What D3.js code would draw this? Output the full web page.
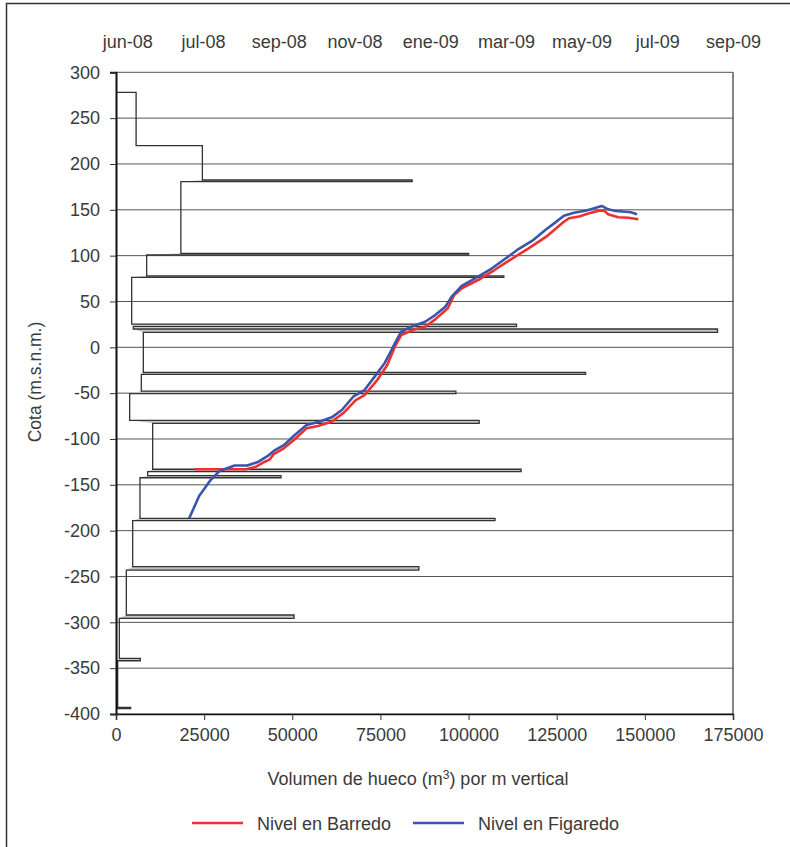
<!DOCTYPE html>
<html>
<head>
<meta charset="utf-8">
<script src="https://cdn.jsdelivr.net/npm/d3@7"></script>
<style>
  body { margin: 0; background: #fff; }
  text { font-family: "Liberation Sans", Arial, sans-serif; fill: #3a3a3a; }
</style>
</head>
<body>
<div id="chart"></div>
<script>
// perfil de huecos por banda de cota
var bandTop    = [278, 220, 180.7, 100.7, 76.4, 22.5, 16.4, -29.5, -50.6, -82.9, -135.7, -142.3, -189, -243, -295.6, -341.9];
var bandBottom = [220, 182.5, 102.5, 78, 25.4, 20, -27.3, -47.7, -79.6, -133, -140, -186.5, -239.3, -292, -339.3, -392.7];
var bandVol    = [5700, 24500, 18400, 8700, 4450, 4900, 7750, 7180, 3880, 10400, 8980, 6800, 4730, 2930, 940, 470];
var spikeVol   = [24500, 84000, 100000, 110000, 113600, 170600, 133200, 96400, 103000, 114900, 46800, 107500, 85900, 50500, 6900, 4150];
var profileEnd = -394;

// niveles de agua
var barredoDates = ["2008-07-24","2008-09-03","2008-09-11","2008-09-18","2008-09-22","2008-09-25","2008-10-03","2008-10-11","2008-10-21","2008-10-30","2008-11-10","2008-11-19","2008-11-29","2008-12-06","2008-12-16","2008-12-24","2008-12-30","2009-01-04","2009-01-15","2009-01-23","2009-01-31","2009-02-10","2009-02-15","2009-02-21","2009-03-06","2009-03-19","2009-04-01","2009-04-15","2009-04-29","2009-05-12","2009-05-17","2009-05-25","2009-06-02","2009-06-10","2009-06-14","2009-06-17","2009-06-25","2009-07-03","2009-07-11"];
var barredoCota  = [-133, -133, -130.2, -124.8, -122.2, -116.4, -110.2, -101.1, -88.4, -85.8, -81.1, -72, -57.5, -52.1, -35.7, -19.3, 0.7, 13.4, 19.6, 22.5, 30.5, 42.6, 57, 64.4, 73.4, 84.3, 96, 108, 120.7, 136, 140.8, 142.6, 146.2, 149.1, 149.1, 145.1, 141.8, 141.4, 139.6];

var figaredoDates = ["2008-07-20","2008-07-28","2008-08-06","2008-08-13","2008-08-25","2008-09-04","2008-09-13","2008-09-20","2008-09-25","2008-10-03","2008-10-11","2008-10-21","2008-10-31","2008-11-10","2008-11-18","2008-11-27","2008-12-06","2008-12-14","2008-12-22","2008-12-26","2008-12-30","2009-01-04","2009-01-12","2009-01-23","2009-01-31","2009-02-08","2009-02-13","2009-02-21","2009-03-06","2009-03-17","2009-03-28","2009-04-07","2009-04-18","2009-04-29","2009-05-06","2009-05-13","2009-05-21","2009-05-30","2009-06-04","2009-06-12","2009-06-17","2009-06-23","2009-07-01","2009-07-05","2009-07-10"];
var figaredoCota  = [-186.5, -162, -144.7, -135, -129, -129, -124.8, -118.8, -113, -106.8, -96.5, -84.8, -81.1, -76.4, -68.4, -53.9, -46.6, -32, -17, -6.5, 4.4, 17, 22.5, 27.9, 35.2, 44.3, 55.2, 66.9, 77, 86.2, 97.1, 107.2, 116.3, 128.7, 136, 143.6, 146.8, 149, 150.9, 154.2, 150.5, 148.7, 147.9, 147.3, 145.1];

var yTicks = [300, 250, 200, 150, 100, 50, 0, -50, -100, -150, -200, -250, -300, -350, -400];
var xTicks = [0, 25000, 50000, 75000, 100000, 125000, 150000, 175000];
var seriesNames = ["Nivel en Barredo", "Nivel en Figaredo"];
var seriesColors = ["#ee3030", "#3a55aa"];

var width = 790, height = 847;
var plot = {left: 116, right: 733, top: 72.3, bottom: 714};

var svg = d3.select("#chart").append("svg")
  .attr("width", width).attr("height", height);

// borde exterior
svg.append("rect")
  .attr("x", 6.5).attr("y", 3.5)
  .attr("width", width).attr("height", height)
  .attr("fill", "none").attr("stroke", "#333").attr("stroke-width", 1.5);

var x = d3.scaleLinear().domain([0, 175000]).range([plot.left, plot.right]);
var y = d3.scaleLinear().domain([-400, 300]).range([plot.bottom, plot.top]);
var parse = d3.timeParse("%Y-%m-%d");
var xt = d3.scaleTime()
  .domain([parse("2008-05-23"), parse("2009-09-24")])
  .range([plot.left, plot.right]);

var es = d3.timeFormatLocale({
  dateTime: "%x, %X", date: "%d/%m/%Y", time: "%-H:%M:%S", periods: ["AM", "PM"],
  days: ["domingo","lunes","martes","miércoles","jueves","viernes","sábado"],
  shortDays: ["dom","lun","mar","mié","jue","vie","sáb"],
  months: ["enero","febrero","marzo","abril","mayo","junio","julio","agosto","septiembre","octubre","noviembre","diciembre"],
  shortMonths: ["ene","feb","mar","abr","may","jun","jul","ago","sep","oct","nov","dic"]
});
var fmtMes = es.format("%b-%y");
var fmtNum = function(d) { return String(d); };  // guion normal, no signo menos

// rejilla
svg.append("g").selectAll("line")
  .data(yTicks)
  .enter().append("line")
    .attr("x1", plot.left).attr("x2", plot.right)
    .attr("y1", function(d) { return y(d); })
    .attr("y2", function(d) { return y(d); })
    .attr("stroke", "#555").attr("stroke-width", 1);
svg.append("line")
  .attr("x1", plot.right).attr("x2", plot.right)
  .attr("y1", plot.top).attr("y2", plot.bottom)
  .attr("stroke", "#333").attr("stroke-width", 1.2);

// perfil escalonado
var pts = [[0, bandTop[0]]];
var slivers = [];
for (var i = 0; i < bandVol.length; i++) {
  pts.push([bandVol[i], bandTop[i]]);
  pts.push([bandVol[i], bandBottom[i]]);
  pts.push([spikeVol[i], bandBottom[i]]);
  if (i < bandVol.length - 1) {
    pts.push([spikeVol[i], bandTop[i + 1]]);
    slivers.push([[bandVol[i], bandBottom[i]], [spikeVol[i], bandBottom[i]],
                  [spikeVol[i], bandTop[i + 1]], [bandVol[i + 1], bandTop[i + 1]]]);
  } else {
    pts.push([spikeVol[i], profileEnd]);
    pts.push([0, profileEnd]);
    slivers.push([[bandVol[i], bandBottom[i]], [spikeVol[i], bandBottom[i]],
                  [spikeVol[i], profileEnd], [0, profileEnd]]);
  }
}
var pline = d3.line().x(function(d) { return x(d[0]); }).y(function(d) { return y(d[1]); });

svg.append("g").selectAll("path")
  .data(slivers)
  .enter().append("path")
    .attr("d", function(d) { return pline(d) + "Z"; })
    .attr("fill", "#c4c4c4").attr("stroke", "none");

svg.append("path")
  .attr("d", pline(pts))
  .attr("fill", "none")
  .attr("stroke", "#333")
  .attr("stroke-width", 1.3);

// series de nivel
var series = [
  barredoDates.map(function(d, k) { return {date: parse(d), cota: barredoCota[k]}; }),
  figaredoDates.map(function(d, k) { return {date: parse(d), cota: figaredoCota[k]}; })
];
var nline = d3.line()
  .x(function(d) { return xt(d.date); })
  .y(function(d) { return y(d.cota); });

svg.append("g").selectAll("path")
  .data(series)
  .enter().append("path")
    .attr("d", nline)
    .attr("fill", "none")
    .attr("stroke", function(d, k) { return seriesColors[k]; })
    .attr("stroke-width", 2.6)
    .attr("stroke-linejoin", "round");

// ejes
var yAxis = d3.axisLeft(y).tickValues(yTicks).tickSize(6).tickPadding(10).tickFormat(fmtNum);
var gy = svg.append("g")
  .attr("transform", "translate(" + plot.left + ",0)")
  .call(yAxis);
gy.select(".domain").attr("stroke", "#111").attr("stroke-width", 2);
gy.selectAll(".tick line").attr("stroke", "#333");
gy.selectAll("text").attr("font-size", 18).attr("font-family", null).attr("fill", "#3a3a3a");

var xAxis = d3.axisBottom(x).tickValues(xTicks).tickSize(6).tickPadding(8).tickFormat(fmtNum);
var gx = svg.append("g")
  .attr("transform", "translate(0," + plot.bottom + ")")
  .call(xAxis);
gx.select(".domain").attr("stroke", "#111").attr("stroke-width", 1.5);
gx.selectAll(".tick line").attr("stroke", "#333");
gx.selectAll("text").attr("font-size", 18).attr("font-family", null).attr("fill", "#3a3a3a");

// eje superior de fechas
var dateTicks = d3.range(9).map(function(k) { return d3.timeDay.offset(parse("2008-06-01"), 60 * k); });
var xtAxis = d3.axisTop(xt).tickValues(dateTicks).tickSize(0).tickPadding(24).tickFormat(fmtMes);
var gt = svg.append("g")
  .attr("transform", "translate(0," + plot.top + ")")
  .call(xtAxis);
gt.select(".domain").remove();
gt.selectAll("text").attr("font-size", 18).attr("font-family", null).attr("fill", "#3a3a3a");

// títulos
svg.append("text")
  .attr("transform", "translate(41,382) rotate(-90)")
  .attr("text-anchor", "middle")
  .attr("font-size", 17.5)
  .text("Cota (m.s.n.m.)");

var xt1 = svg.append("text")
  .attr("x", 418).attr("y", 785)
  .attr("text-anchor", "middle")
  .attr("font-size", 18);
xt1.append("tspan").text("Volumen de hueco (m");
xt1.append("tspan").attr("font-size", 12).attr("dy", -6).text("3");
xt1.append("tspan").attr("dy", 6).text(") por m vertical");

// leyenda
var legX = [192, 413];
var leg = svg.append("g").selectAll("g")
  .data(seriesNames)
  .enter().append("g")
    .attr("transform", function(d, k) { return "translate(" + legX[k] + ",823)"; });
leg.append("line")
  .attr("x1", 0).attr("x2", 51)
  .attr("stroke", function(d, k) { return seriesColors[k]; })
  .attr("stroke-width", 2.6);
leg.append("text")
  .attr("x", 65).attr("y", 6.5)
  .attr("font-size", 18)
  .text(function(d) { return d; });
</script>
</body>
</html>
